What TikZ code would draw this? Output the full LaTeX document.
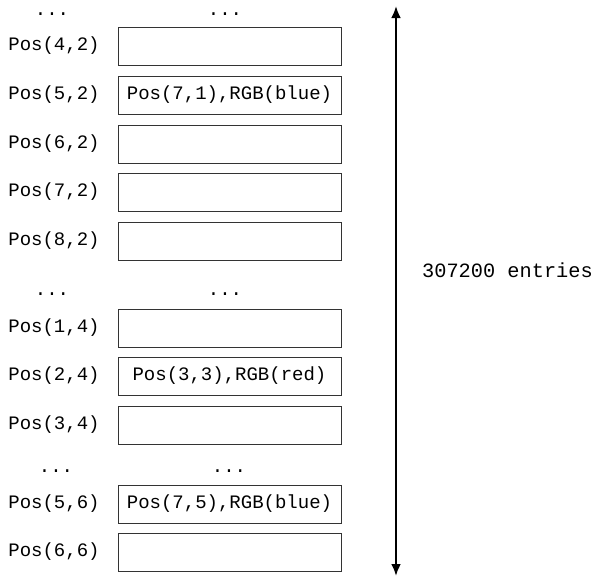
\documentclass[tikz,border=0pt]{standalone}
\usepackage{fontspec}
\setmonofont{Liberation Mono}
\usetikzlibrary{arrows.meta}
\tikzset{
  mono/.style={font=\ttfamily\fontsize{19}{23}\selectfont, text=black, inner sep=0pt},
  slot/.style={mono, draw=black!80, line width=1pt, minimum width=223pt, minimum height=38pt},
  key/.style={mono, anchor=center},
  dots/.style={mono, anchor=base},
  span/.style={line width=2.5pt, {Latex[length=12pt,width=10pt]}-{Latex[length=12pt,width=10pt]}}
}
\begin{document}
\begin{tikzpicture}[x=1pt,y=-1pt]
\useasboundingbox (0,0) rectangle (596,576);

% first block of rows
\node[dots] (d1l) at (52,15) {...};
\node[dots] (d1r) at (225,15) {...};
\node[key] (k42) at (54,46) {Pos(4,2)};
\node[slot] (s42) at (229.5,46) {};
\node[key] (k52) at (54,95) {Pos(5,2)};
\node[slot] (s52) at (229.5,95) {Pos(7,1),RGB(blue)};
\node[key] (k62) at (54,144) {Pos(6,2)};
\node[slot] (s62) at (229.5,144) {};
\node[key] (k72) at (54,192) {Pos(7,2)};
\node[slot] (s72) at (229.5,192) {};
\node[key] (k82) at (54,241) {Pos(8,2)};
\node[slot] (s82) at (229.5,241) {};

% second block
\node[dots] (d2l) at (52,295) {...};
\node[dots] (d2r) at (225,295) {...};
\node[key] (k14) at (54,328) {Pos(1,4)};
\node[slot] (s14) at (229.5,328) {};
\node[key] (k24) at (54,376) {Pos(2,4)};
\node[slot] (s24) at (229.5,376) {Pos(3,3),RGB(red)};
\node[key] (k34) at (54,425) {Pos(3,4)};
\node[slot] (s34) at (229.5,425) {};

% third block
\node[dots] (d3l) at (56,472) {...};
\node[dots] (d3r) at (229,472) {...};
\node[key] (k56) at (54,504) {Pos(5,6)};
\node[slot] (s56) at (229.5,504) {Pos(7,5),RGB(blue)};
\node[key] (k66) at (54,552) {Pos(6,6)};
\node[slot] (s66) at (229.5,552) {};

% total size of the table
\coordinate (top) at (396,6);
\coordinate (bot) at (396,576);
\draw[span] (top) -- (bot);
\node[mono, font=\ttfamily\fontsize{20.3}{24}\selectfont, anchor=base west] (count) at (422,277) {307200 entries};
\end{tikzpicture}
\end{document}
